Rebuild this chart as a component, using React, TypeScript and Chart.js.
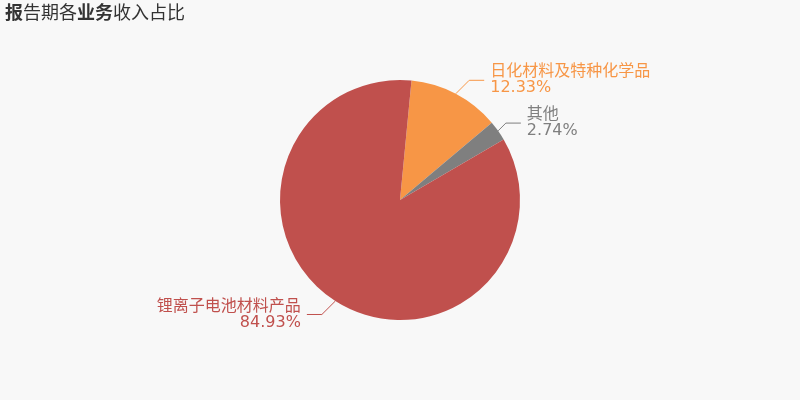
import React, { useEffect, useRef } from 'react';
import { Chart, registerables, Plugin } from 'chart.js';

Chart.register(...registerables);

const categories = ['日化材料及特种化学品', '其他', '锂离子电池材料产品'];
const shares = [12.33, 2.74, 84.93];
const colors = ['#f79646', '#7f7f7f', '#c0504d'];

const FONT = '"DejaVu Sans", "Noto Sans CJK SC", sans-serif';

// title with mixed weight, drawn on the canvas
const titlePlugin: Plugin<'pie'> = {
  id: 'title',
  afterDraw(chart) {
    const ctx = chart.ctx;
    const parts: [string, boolean][] = [
      ['报', true],
      ['告期各', false],
      ['业务', true],
      ['收入占比', false],
    ];
    ctx.save();
    ctx.fillStyle = '#333';
    ctx.textBaseline = 'middle';
    let x = 5;
    parts.forEach(([t, bold]) => {
      ctx.font = `${bold ? 'bold ' : ''}18px ${FONT}`;
      ctx.fillText(t, x, 14);
      x += ctx.measureText(t).width;
    });
    ctx.restore();
  },
};

// outside labels with leader lines
const firstSeg = [19, 11, 19];
const labelPlugin: Plugin<'pie'> = {
  id: 'leaderLabels',
  afterDatasetsDraw(chart) {
    const ctx = chart.ctx;
    const meta = chart.getDatasetMeta(0);
    ctx.save();
    meta.data.forEach((arc: any, i) => {
      const { x, y, startAngle, endAngle, outerRadius } = arc.getProps(
        ['x', 'y', 'startAngle', 'endAngle', 'outerRadius'],
        true
      );
      const mid = (startAngle + endAngle) / 2;
      const sx = x + Math.cos(mid) * outerRadius;
      const sy = y + Math.sin(mid) * outerRadius;
      const right = Math.cos(mid) >= 0;
      const up = Math.sin(mid) < 0;
      const d = firstSeg[i] / Math.SQRT2;
      const bx = sx + (right ? d : -d);
      const by = sy + (up ? -d : d);
      const ex = bx + (right ? 15 : -15);
      ctx.strokeStyle = colors[i];
      ctx.lineWidth = 1;
      ctx.beginPath();
      ctx.moveTo(sx, sy);
      ctx.lineTo(bx, by);
      ctx.lineTo(ex, by);
      ctx.stroke();

      ctx.fillStyle = colors[i];
      ctx.textAlign = right ? 'left' : 'right';
      ctx.textBaseline = 'middle';
      const tx = ex + (right ? 6 : -6);
      ctx.font = `16px ${FONT}`;
      ctx.fillText(categories[i], tx, by - 8);
      ctx.fillText(shares[i].toFixed(2) + '%', tx, by + 8);
    });
    ctx.restore();
  },
};

const App: React.FC = () => {
  const chartRef = useRef<HTMLCanvasElement | null>(null);
  const chartInstance = useRef<Chart | null>(null);

  useEffect(() => {
    document.body.style.margin = '0';
    const chartCanvas = chartRef.current?.getContext('2d');

    if (chartCanvas) {
      if (chartInstance.current) {
        chartInstance.current.destroy();
      }

      chartInstance.current = new Chart(chartCanvas, {
        type: 'pie',
        data: {
          labels: categories,
          datasets: [
            {
              data: shares,
              backgroundColor: colors,
              borderWidth: 0,
            },
          ],
        },
        options: {
          responsive: false,
          animation: false,
          rotation: 5.5,
          layout: {
            padding: { top: 80, bottom: 80, left: 280, right: 280 },
          },
          plugins: {
            legend: { display: false },
            tooltip: { enabled: false },
          },
        },
        plugins: [titlePlugin, labelPlugin],
      });
    }

    return () => {
      if (chartInstance.current) {
        chartInstance.current.destroy();
      }
    };
  }, []);

  return (
    <div style={{ width: 800, height: 400, background: '#f8f8f8' }}>
      <canvas ref={chartRef} width={800} height={400} />
    </div>
  );
};

export default App;
